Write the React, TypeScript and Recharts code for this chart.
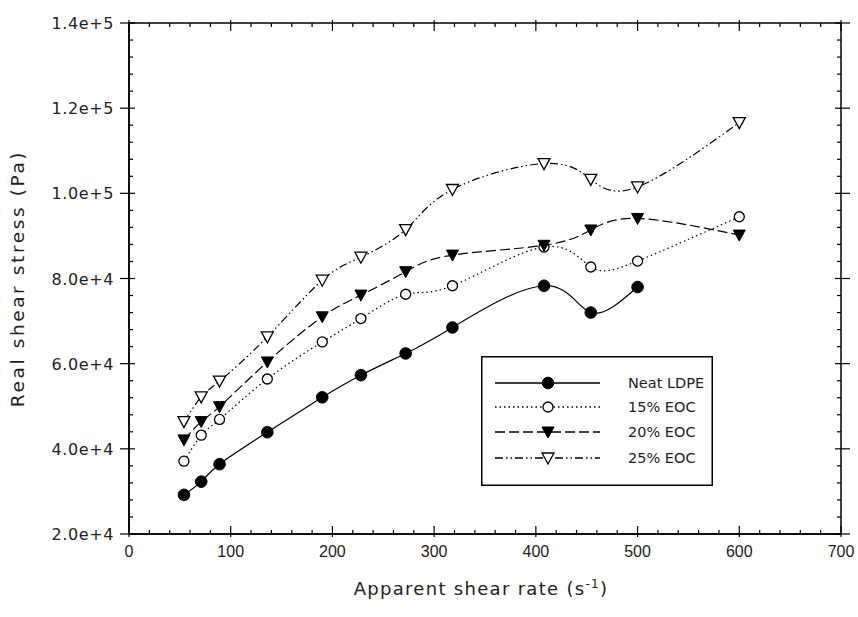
import React from 'react';
import { LineChart, Line, XAxis, YAxis, ReferenceArea, Legend } from 'recharts';

// ---- data ----
const shearRate = [54, 71, 89, 136, 190, 228, 272, 318, 408, 454, 500, 600];
const neatLDPE = [29200, 32300, 36400, 43900, 52100, 57300, 62400, 68500, 78300, 72000, 78000];
const eoc15 = [37100, 43200, 46900, 56400, 65100, 70600, 76300, 78300, 87400, 82700, 84100, 94500];
const eoc20 = [42100, 46400, 49900, 60400, 71000, 76100, 81600, 85500, 87800, 91400, 94100, 90200];
const eoc25 = [46400, 52200, 55900, 66300, 79600, 85000, 91500, 100900, 107000, 103300, 101500, 116600];

const seriesNames = ['Neat LDPE', '15% EOC', '20% EOC', '25% EOC'];
const xMajorTicks = [0, 100, 200, 300, 400, 500, 600, 700];
const yMajorTicks = [20000, 40000, 60000, 80000, 100000, 120000, 140000];
const xMinorStep = 20;
const yMinorStep = 4000;

const data = shearRate.map((x, i) => ({
  x,
  neat: neatLDPE[i],
  e15: eoc15[i],
  e20: eoc20[i],
  e25: eoc25[i],
}));

const xTicks: number[] = [];
for (let v = xMajorTicks[0]; v <= xMajorTicks[xMajorTicks.length - 1]; v += xMinorStep) xTicks.push(v);
const yTicks: number[] = [];
for (let v = yMajorTicks[0]; v <= yMajorTicks[yMajorTicks.length - 1]; v += yMinorStep) yTicks.push(v);

// ---- layout ----
const W = 858;
const H = 617;
const MARGIN = { top: 23, right: 17, bottom: 0, left: 0 };
const Y_AXIS_W = 129;
const X_AXIS_H = 83;
const PLOT_TOP = MARGIN.top;
const PLOT_RIGHT = W - MARGIN.right;

const tickFont = 'DejaVu Sans, sans-serif';
const xTickFont = 'Liberation Sans, Arial, sans-serif';

const XTick = (props: any) => {
  const { x, y, payload } = props;
  const v = payload.value;
  const major = xMajorTicks.includes(v);
  const len = major ? 8 : 4;
  return (
    <g>
      <line x1={x} x2={x} y1={y + (major ? 3 : 0)} y2={y - len} stroke="#000" strokeWidth={1.2} />
      <line x1={x} x2={x} y1={PLOT_TOP - (major ? 3 : 0)} y2={PLOT_TOP + len} stroke="#000" strokeWidth={1.2} />
      {major && (
        <text x={x} y={y + 23} textAnchor="middle" fontFamily={xTickFont} fontSize={16} fill="#222">
          {v}
        </text>
      )}
    </g>
  );
};

const YTick = (props: any) => {
  const { x, y, payload } = props;
  const v = payload.value;
  const major = yMajorTicks.includes(v);
  return (
    <g>
      {major ? (
        <>
          <line x1={x - 9} x2={x + 6} y1={y} y2={y} stroke="#000" strokeWidth={1.2} />
          <line x1={PLOT_RIGHT - 6} x2={PLOT_RIGHT + 9} y1={y} y2={y} stroke="#000" strokeWidth={1.2} />
          <text x={x - 15} y={y + 6} textAnchor="end" fontFamily={tickFont} fontSize={16} letterSpacing={0.6} fill="#222">
            {v.toExponential(1)}
          </text>
        </>
      ) : (
        <>
          <line x1={x} x2={x + 4} y1={y} y2={y} stroke="#000" strokeWidth={1.2} />
          <line x1={PLOT_RIGHT - 4} x2={PLOT_RIGHT} y1={y} y2={y} stroke="#000" strokeWidth={1.2} />
        </>
      )}
    </g>
  );
};

type Shape = 'filledCircle' | 'openCircle' | 'filledTri' | 'openTri';

const marker = (shape: Shape, cx: number, cy: number, key?: string) => {
  if (shape === 'filledCircle') return <circle key={key} cx={cx} cy={cy} r={5.8} fill="#000" stroke="#000" />;
  if (shape === 'openCircle') return <circle key={key} cx={cx} cy={cy} r={5} fill="#fff" stroke="#000" strokeWidth={1.3} />;
  const pts = `${cx - 6},${cy - 5} ${cx + 6},${cy - 5} ${cx},${cy + 6}`;
  if (shape === 'filledTri') return <polygon key={key} points={pts} fill="#000" stroke="#000" />;
  return <polygon key={key} points={pts} fill="#fff" stroke="#000" strokeWidth={1.3} />;
};

const makeDot = (shape: Shape) => (props: any) => {
  const { cx, cy, index, value } = props;
  if (cx == null || cy == null || value == null) return <g key={`e-${index}`} />;
  return marker(shape, cx, cy, `d-${shape}-${index}`);
};

const seriesStyle: { key: string; shape: Shape; dash?: string }[] = [
  { key: 'neat', shape: 'filledCircle' },
  { key: 'e15', shape: 'openCircle', dash: '1.5 3' },
  { key: 'e20', shape: 'filledTri', dash: '10 4' },
  { key: 'e25', shape: 'openTri', dash: '8 3 1.5 3 1.5 3' },
];

const LegendBox = () => {
  const rows = [27, 51, 76, 102];
  return (
    <svg width={232} height={130} style={{ display: 'block' }}>
      <rect x={0.75} y={0.75} width={230.5} height={128.5} fill="#fff" stroke="#000" strokeWidth={1.5} />
      {seriesStyle.map((s, i) => (
        <g key={s.key}>
          <line x1={14} x2={119} y1={rows[i]} y2={rows[i]} stroke="#000" strokeWidth={1.3} strokeDasharray={s.dash} />
          {marker(s.shape, 67, rows[i])}
          <text x={147} y={rows[i] + 5} fontFamily={tickFont} fontSize={14.5} fill="#222">
            {seriesNames[i]}
          </text>
        </g>
      ))}
    </svg>
  );
};

const XLabel = (props: any) => {
  const { viewBox } = props;
  const cx = viewBox.x + viewBox.width / 2 - 4;
  return (
    <text x={cx} y={viewBox.y + 61} textAnchor="middle" fontFamily={tickFont} fontSize={18} letterSpacing={1.3} fill="#222">
      Apparent shear rate (s
      <tspan dy={-7} fontSize={12}>-1</tspan>
      <tspan dy={7}>)</tspan>
    </text>
  );
};

const YLabel = (props: any) => {
  const { viewBox } = props;
  const cy = viewBox.y + viewBox.height / 2;
  const x = 24;
  return (
    <text
      x={x}
      y={cy}
      transform={`rotate(-90, ${x}, ${cy})`}
      textAnchor="middle"
      fontFamily={tickFont}
      fontSize={18.5}
      letterSpacing={2.6}
      fill="#222"
    >
      Real shear stress (Pa)
    </text>
  );
};

export default function App() {
  return (
    <div style={{ position: 'absolute', left: 0, top: 0, width: W, height: H, background: '#fff' }}>
      <LineChart width={W} height={H} data={data} margin={MARGIN}>
        <XAxis
          dataKey="x"
          type="number"
          domain={[0, 700]}
          ticks={xTicks}
          interval={0}
          height={X_AXIS_H}
          tickSize={0}
          tickMargin={0}
          tickLine={false}
          axisLine={{ stroke: '#000', strokeWidth: 1.5 }}
          tick={<XTick />}
          label={<XLabel />}
          allowDataOverflow
        />
        <YAxis
          type="number"
          domain={[20000, 140000]}
          ticks={yTicks}
          interval={0}
          width={Y_AXIS_W}
          tickSize={0}
          tickMargin={0}
          tickLine={false}
          axisLine={{ stroke: '#000', strokeWidth: 1.5 }}
          tick={<YTick />}
          label={<YLabel />}
          allowDataOverflow
        />
        <ReferenceArea x1={0} x2={700} y1={20000} y2={140000} fill="none" stroke="#000" strokeWidth={1.5} fillOpacity={0} />
        {seriesStyle.map((s, i) => (
          <Line
            key={s.key}
            dataKey={s.key}
            name={seriesNames[i]}
            type="natural"
            stroke="#000"
            strokeWidth={1.2}
            strokeDasharray={s.dash}
            dot={makeDot(s.shape)}
            activeDot={false}
            isAnimationActive={false}
            connectNulls={false}
          />
        ))}
        <Legend
          layout="vertical"
          align="center"
          verticalAlign="middle"
          wrapperStyle={{ left: 481, top: 356, width: 232, height: 130 }}
          content={() => <LegendBox />}
        />
      </LineChart>
    </div>
  );
}
